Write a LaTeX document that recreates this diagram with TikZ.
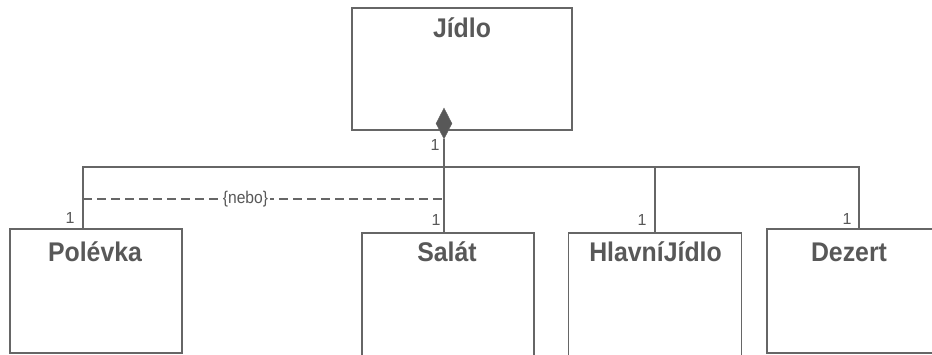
\documentclass[tikz,border=0pt]{standalone}
\usepackage{fontspec}
\setmainfont{Liberation Sans}
\newfontfamily\boxfont[FakeStretch=0.92]{Liberation Sans}
\usetikzlibrary{shapes.geometric}
\definecolor{ink}{HTML}{585858}
\definecolor{linecol}{HTML}{666666}
\tikzset{
  classbox/.style={draw=linecol, line width=1.6pt, inner sep=0pt, fill=white},
  classname/.style={text=ink, font=\boxfont\fontsize{27}{27}\selectfont\bfseries, anchor=base, inner sep=0pt},
  mult/.style={text=ink, font=\fontsize{16}{16}\selectfont, inner sep=0pt},
  conn/.style={draw=linecol, line width=1.6pt},
  orline/.style={draw=linecol, line width=1.6pt, dash pattern=on 9pt off 5pt},
  constraint/.style={text=ink, font=\boxfont\fontsize{17}{17}\selectfont, fill=white, inner sep=2pt},
  agg/.style={diamond, draw=linecol, fill=ink, inner sep=0pt, minimum width=16pt, minimum height=31pt}
}
\begin{document}
\begin{tikzpicture}[x=1pt,y=-1pt]
\useasboundingbox (0,0) rectangle (932,355);
\clip (0,0) rectangle (932,355);
\fill[white] (0,0) rectangle (932,355);
% boxes
\node[classbox, minimum width=220pt, minimum height=122pt] (jidlo) at (462,69) {};
\node[classbox, minimum width=172pt, minimum height=124pt] (polevka) at (96,291) {};
\node[classbox, minimum width=172pt, minimum height=147pt] (salat) at (448,306.5) {};
\node[classbox, minimum width=173pt, minimum height=147pt] (hlavni) at (655,306.5) {};
\node[classbox, minimum width=173pt, minimum height=124pt] (dezert) at (853.5,291) {};
% names
\node[classname] (tjidlo) at (462,38) {Jídlo};
\node[classname] (tpolevka) at (95,262) {Polévka};
\node[classname] (tsalat) at (447,262) {Salát};
\node[classname] (thlavni) at (655.5,262) {HlavníJídlo};
\node[classname] (tdezert) at (849,262) {Dezert};
% aggregation
\node[agg] (dia) at (444,123.5) {};
\coordinate (busL) at (83,167);
\coordinate (busR) at (859,167);
\draw[conn] (dia.south) -- (dia.south |- salat.north);
\draw[conn] (busL |- polevka.north) -- (busL) -- (busR) -- (busR |- dezert.north);
\draw[conn] (hlavni.north) -- (hlavni.north |- busL);
% or constraint
\coordinate (orL) at (83,199);
\coordinate (orR) at (444,199);
\draw[orline] (orL) -- (orR) node[constraint, pos=0.45] (nebo) {\{nebo\}};
% multiplicities
\node[mult] (m0) at (435,145) {1};
\node[mult] (m1) at (70,218) {1};
\node[mult] (m2) at (436,220) {1};
\node[mult] (m3) at (642,220) {1};
\node[mult] (m4) at (847,219) {1};
\end{tikzpicture}
\end{document}
